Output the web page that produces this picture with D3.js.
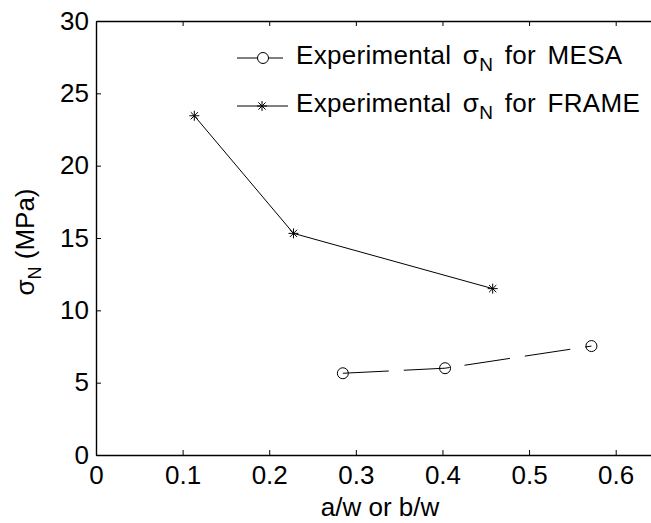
<!DOCTYPE html>
<html>
<head>
<meta charset="utf-8">
<style>
  body { margin: 0; background: #fff; }
  svg { background-color: #fff; font-family: "Liberation Sans", Arial, sans-serif; }
  .tick text { font-size: 26px; fill: #000; }
</style>
</head>
<body>
<div id="chart"></div>
<script src="https://d3js.org/d3.v7.min.js"></script>
<script>
  var mesaX = [0.285, 0.403, 0.572];
  var mesaY = [5.65, 6.0, 7.53];
  var frameX = [0.1135, 0.228, 0.458];
  var frameY = [23.45, 15.32, 11.5];
  var xTicks = [0, 0.1, 0.2, 0.3, 0.4, 0.5, 0.6];
  var yTicks = [0, 5, 10, 15, 20, 25, 30];

  var width = 651, height = 523;
  var padL = 96, padR = 659, padT = 21, padB = 455;

  var svg = d3.select("#chart").append("svg")
    .attr("width", width)
    .attr("height", height);

  var x = d3.scaleLinear().domain([0, 0.65]).range([padL, padR]);
  var y = d3.scaleLinear().domain([0, 30]).range([padB, padT]);

  // axes with inward ticks
  svg.append("g")
    .attr("transform", "translate(0," + padB + ")")
    .call(d3.axisBottom(x).tickValues(xTicks).tickSizeInner(-5).tickSizeOuter(0)
      .tickPadding(11).tickFormat(d3.format("")));

  svg.append("g")
    .attr("transform", "translate(0," + padT + ")")
    .call(d3.axisTop(x).tickValues(xTicks).tickSizeInner(-5).tickSizeOuter(0).tickFormat(""));

  svg.append("g")
    .attr("transform", "translate(" + padL + ",0)")
    .call(d3.axisLeft(y).tickValues(yTicks).tickSizeInner(-5).tickSizeOuter(0).tickPadding(7));

  svg.selectAll(".domain").attr("stroke", "#000").attr("stroke-width", 1.4);
  svg.selectAll(".tick line").attr("stroke", "#000");

  var line = d3.line().x(function(d) { return x(d[0]); }).y(function(d) { return y(d[1]); });

  var mesa = mesaX.map(function(v, i) { return [v, mesaY[i]]; });
  var frame = frameX.map(function(v, i) { return [v, frameY[i]]; });

  svg.append("path").datum(frame)
    .attr("d", line).attr("fill", "none").attr("stroke", "#000").attr("stroke-width", 1);
  svg.append("path").datum(mesa)
    .attr("d", line).attr("fill", "none").attr("stroke", "#000").attr("stroke-width", 1)
    .attr("stroke-dasharray", "46,15");

  function star(g, cx, cy) {
    var r = 5, d = 3.6;
    g.append("path")
      .attr("d", "M" + (cx - r) + "," + cy + "H" + (cx + r) +
        "M" + cx + "," + (cy - r) + "V" + (cy + r) +
        "M" + (cx - d) + "," + (cy - d) + "L" + (cx + d) + "," + (cy + d) +
        "M" + (cx - d) + "," + (cy + d) + "L" + (cx + d) + "," + (cy - d))
      .attr("stroke", "#000").attr("stroke-width", 1).attr("fill", "none");
  }

  svg.selectAll("circle.mesa").data(mesa).enter().append("circle")
    .attr("class", "mesa")
    .attr("cx", function(d) { return x(d[0]); })
    .attr("cy", function(d) { return y(d[1]); })
    .attr("r", 5.5).attr("fill", "none").attr("stroke", "#000").attr("stroke-width", 1);

  frame.forEach(function(d) { star(svg, x(d[0]), y(d[1])); });

  // legend
  var lg = svg.append("g");
  lg.append("line").attr("x1", 237).attr("x2", 283).attr("y1", 58).attr("y2", 58)
    .attr("stroke", "#000");
  lg.append("circle").attr("cx", 263).attr("cy", 58).attr("r", 5.5)
    .attr("fill", "#fff").attr("stroke", "#000");
  lg.append("line").attr("x1", 237).attr("x2", 288).attr("y1", 106).attr("y2", 106)
    .attr("stroke", "#000");
  star(lg, 262, 106);

  function legendText(ty, name) {
    var t = lg.append("text").attr("x", 296).attr("y", ty).attr("font-size", 26)
      .attr("word-spacing", 4).attr("letter-spacing", 0.3);
    t.append("tspan").text("Experimental \u03c3");
    t.append("tspan").attr("dy", 7).attr("font-size", 19).text("N");
    t.append("tspan").attr("dy", -7).text(" for " + name);
  }
  legendText(64, "MESA");
  legendText(112, "FRAME");

  // axis labels
  svg.append("text")
    .attr("x", 380).attr("y", 516)
    .attr("text-anchor", "middle").attr("font-size", 26)
    .text("a/w or b/w");

  var yl = svg.append("text")
    .attr("transform", "translate(34,242) rotate(-90)")
    .attr("text-anchor", "middle").attr("font-size", 26);
  yl.append("tspan").text("\u03c3");
  yl.append("tspan").attr("dy", 7).attr("font-size", 18).text("N");
  yl.append("tspan").attr("dy", -7).text(" (MPa)");
</script>
</body>
</html>
